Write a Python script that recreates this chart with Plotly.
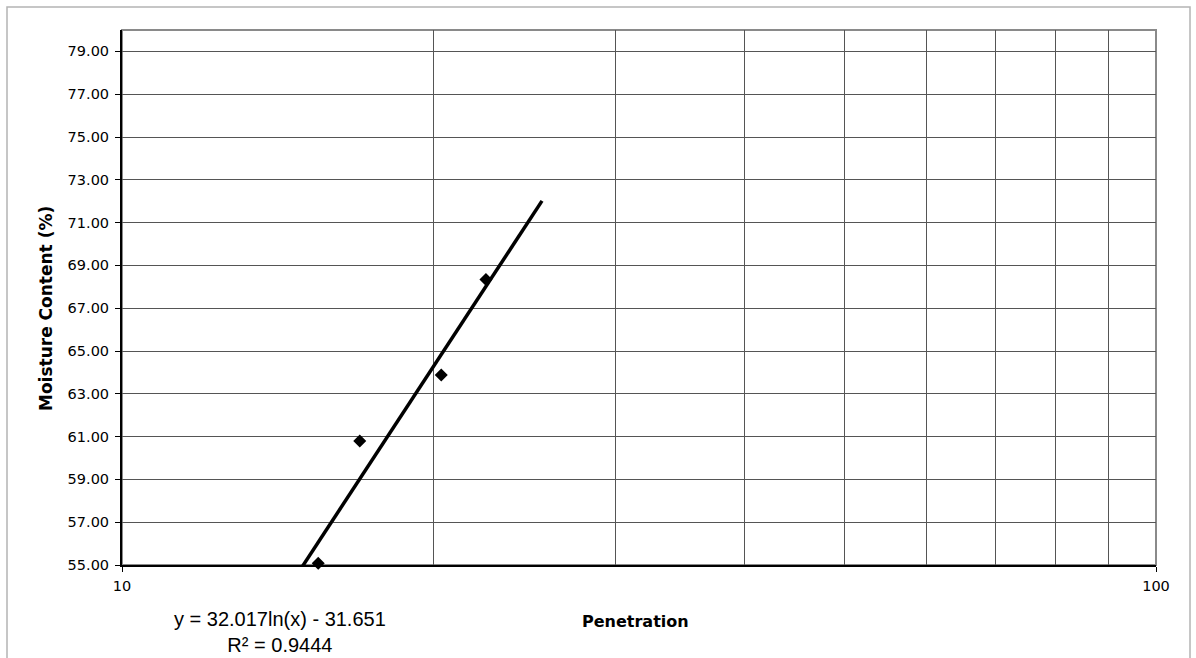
import numpy as np
import plotly.graph_objects as go

# Data
penetration = [15.48, 16.98, 20.36, 22.49]
moisture = [55.08, 60.79, 63.88, 68.34]

# Logarithmic trendline as displayed: y = a*ln(x) + b
trend_a = 32.017
trend_b = -31.651
trend_x = [14.5, 25.48]
trend_y = [trend_a * np.log(x) + trend_b for x in trend_x]

y_ticks = [55, 57, 59, 61, 63, 65, 67, 69, 71, 73, 75, 77, 79]
x_minor = [20, 30, 40, 50, 60, 70, 80, 90]

fig = go.Figure()
fig.add_trace(go.Scatter(x=trend_x, y=trend_y, mode="lines",
                         line=dict(color="black", width=3.5), showlegend=False,
                         hoverinfo="skip"))
fig.add_trace(go.Scatter(x=penetration, y=moisture, mode="markers",
                         marker=dict(symbol="diamond", size=10, color="black"),
                         showlegend=False, cliponaxis=False))

grid = "#555555"
tick_font = dict(family="Verdana, DejaVu Sans", size=14.5, color="black")
fig.update_layout(
    width=1196, height=658,
    margin=dict(l=122, r=40, t=30, b=93),
    paper_bgcolor="white", plot_bgcolor="white",
    font=dict(family="DejaVu Sans", size=15, color="black"),
    xaxis=dict(type="log", range=[1, 2], tickvals=[10, 100], ticktext=["10", "100"],
               showgrid=False, ticks="outside", ticklen=5, tickcolor="black",
               showline=True, linecolor="black", linewidth=2,
               minor=dict(tickvals=x_minor, showgrid=True, gridcolor=grid,
                          gridwidth=1, ticks=""),
               tickfont=tick_font, ticklabelstandoff=2, zeroline=False),
    yaxis=dict(range=[55, 80], tickvals=y_ticks, tickformat=".2f",
               showgrid=True, gridcolor=grid, gridwidth=1,
               ticks="outside", ticklen=5, tickcolor="black",
               showline=True, linecolor="black", linewidth=2,
               tickfont=tick_font, ticklabelstandoff=3, zeroline=False),
    shapes=[
        dict(type="rect", xref="paper", yref="paper", x0=0, x1=1, y0=0, y1=1,
             line=dict(color="#8a8a8a", width=2), layer="below"),
        dict(type="rect", xref="paper", yref="paper",
             x0=(7 - 122) / 1034, x1=(1190 - 122) / 1034,
             y0=-0.3, y1=(565 - 7) / 535,
             line=dict(color="#b4b4b4", width=1.5), layer="below"),
    ],
    annotations=[
        dict(text="<b>Moisture Content (%)</b>", xref="paper", yref="paper",
             x=(46 - 122) / 1034, y=(565 - 309) / 535, textangle=-90,
             showarrow=False, font=dict(family="DejaVu Sans", size=17),
             xanchor="center", yanchor="middle"),
        dict(text="<b>Penetration</b>", xref="paper", yref="paper",
             x=(635 - 122) / 1034, y=(565 - 621) / 535,
             showarrow=False, font=dict(family="DejaVu Sans", size=16),
             xanchor="center", yanchor="middle"),
        dict(text="y = 32.017ln(x) - 31.651<br>R² = 0.9444", xref="paper", yref="paper",
             x=(280 - 122) / 1034, y=(565 - 632) / 535,
             showarrow=False, font=dict(family="Liberation Sans", size=20),
             xanchor="center", yanchor="middle", align="center"),
    ],
)

fig.write_html("out.html")
